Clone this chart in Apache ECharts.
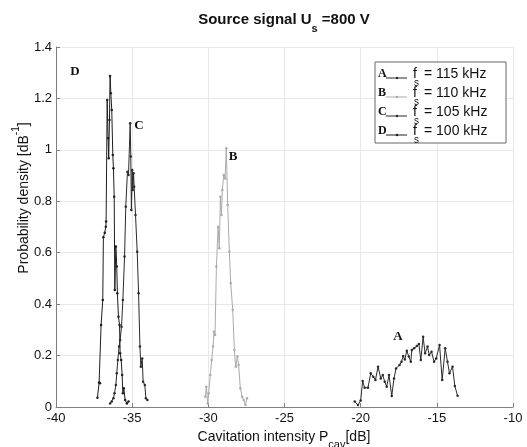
<!DOCTYPE html>
<html>
<head>
<meta charset="utf-8">
<script src="https://cdn.jsdelivr.net/npm/echarts@6/dist/echarts.min.js"></script>
<style>
  html, body { margin: 0; padding: 0; background: #fff; }
  #chart { width: 527px; height: 447px; }
</style>
</head>
<body>
<div id="chart"></div>
<script>
// values: [cavitation intensity dB, probability density]
const seriesA = [
  [-20.39, 0.021], [-20.18, 0.008], [-20.0, 0.025], [-19.87, 0.101], [-19.74, 0.075],
  [-19.52, 0.075], [-19.34, 0.131], [-19.17, 0.118], [-19.03, 0.105], [-18.86, 0.157],
  [-18.68, 0.111], [-18.55, 0.124], [-18.42, 0.098], [-18.29, 0.079], [-18.14, 0.124],
  [-17.96, 0.043], [-17.81, 0.111], [-17.68, 0.150], [-17.45, 0.163], [-17.32, 0.176],
  [-17.21, 0.198], [-17.1, 0.185], [-16.97, 0.219], [-16.84, 0.196], [-16.71, 0.176],
  [-16.64, 0.222], [-16.49, 0.228], [-16.32, 0.237], [-16.18, 0.245], [-16.05, 0.183],
  [-15.9, 0.273], [-15.77, 0.209], [-15.61, 0.235], [-15.5, 0.202], [-15.35, 0.215],
  [-15.18, 0.176], [-15.04, 0.189], [-14.82, 0.241], [-14.65, 0.105], [-14.45, 0.228],
  [-14.3, 0.176], [-14.17, 0.131], [-13.97, 0.157], [-13.82, 0.082], [-13.64, 0.044]
]
const seriesB = [
  [-30.2, 0.040], [-30.13, 0.079], [-30.04, 0.014], [-29.98, 0.053], [-29.87, 0.124],
  [-29.78, 0.183], [-29.69, 0.235], [-29.63, 0.293], [-29.56, 0.280], [-29.47, 0.546],
  [-29.36, 0.701], [-29.28, 0.617], [-29.21, 0.818], [-29.14, 0.747], [-29.08, 0.844],
  [-28.99, 0.902], [-28.9, 0.889], [-28.82, 1.006], [-28.73, 0.786], [-28.62, 0.604],
  [-28.53, 0.481], [-28.4, 0.377], [-28.29, 0.222], [-28.2, 0.157], [-28.09, 0.196],
  [-28.01, 0.163], [-27.9, 0.073], [-27.78, 0.040], [-27.68, 0.027], [-27.57, 0.008],
  [-27.46, 0.034]
]
const seriesC = [
  [-36.45, 0.014], [-36.34, 0.021], [-36.23, 0.034], [-36.16, 0.053], [-36.07, 0.086],
  [-36.01, 0.131], [-35.94, 0.183], [-35.86, 0.235], [-35.79, 0.261], [-35.7, 0.312],
  [-35.61, 0.416], [-35.5, 0.585], [-35.42, 0.779], [-35.31, 0.915], [-35.24, 0.902],
  [-35.13, 1.103], [-35.09, 0.974], [-35.05, 0.766], [-35.0, 0.922], [-34.96, 0.844],
  [-34.91, 0.909], [-34.87, 0.857], [-34.78, 0.747], [-34.67, 0.604], [-34.58, 0.442],
  [-34.49, 0.235], [-34.43, 0.157], [-34.34, 0.189], [-34.28, 0.098], [-34.17, 0.086],
  [-34.1, 0.034], [-34.0, 0.027]
]
const seriesD = [
  [-37.28, 0.036], [-37.17, 0.095], [-37.11, 0.092], [-37.04, 0.319], [-36.93, 0.416],
  [-36.89, 0.660], [-36.8, 0.678], [-36.73, 0.701], [-36.71, 0.721], [-36.64, 1.194],
  [-36.58, 1.045], [-36.54, 0.967], [-36.49, 1.116], [-36.45, 1.287], [-36.4, 1.220],
  [-36.34, 1.155], [-36.27, 0.980], [-36.23, 0.928], [-36.18, 0.818], [-36.14, 0.455],
  [-36.07, 0.624], [-36.01, 0.546], [-35.97, 0.442], [-35.9, 0.351], [-35.83, 0.319],
  [-35.79, 0.209], [-35.72, 0.183], [-35.66, 0.124], [-35.61, 0.053], [-35.55, 0.073],
  [-35.46, 0.027], [-35.35, 0.014], [-35.24, 0.021]
]
const curveLetters = ['A', 'B', 'C', 'D']
const curveFreqs = ['115', '110', '105', '100']
const curveColors = ['#2a2a2a', '#ababab', '#2a2a2a', '#1e1e1e']

const sans = 'Liberation Sans, Arial, sans-serif'
const serif = 'Liberation Serif, Times New Roman, serif'

function lineSeries(name, data, color) {
  return {
    name: name,
    type: 'line',
    data: data,
    symbol: 'circle',
    symbolSize: 2.5,
    showSymbol: true,
    itemStyle: { color: color },
    lineStyle: { color: color, width: 1 },
    animation: false
  }
}

const legendGraphics = []
legendGraphics.push({
  type: 'rect',
  shape: { x: 375, y: 62, width: 131, height: 81 },
  style: { fill: '#fff', stroke: '#666', lineWidth: 1 },
  z: 10
})
curveLetters.forEach(function(letter, i) {
  const y = 74 + i * 19
  legendGraphics.push({
    type: 'text', z: 11,
    style: { text: letter, x: 378, y: y, font: 'bold 12px ' + serif, fill: '#111', textVerticalAlign: 'middle' }
  })
  legendGraphics.push({
    type: 'line', z: 11,
    shape: { x1: 386, y1: y + 4, x2: 407, y2: y + 4 },
    style: { stroke: curveColors[i], lineWidth: 1 }
  })
  legendGraphics.push({
    type: 'circle', z: 11,
    shape: { cx: 397, cy: y + 4, r: 1.2 },
    style: { fill: curveColors[i] }
  })
  legendGraphics.push({
    type: 'text', z: 11,
    style: { text: 'f', x: 413, y: y, font: '14px ' + sans, fill: '#111', textVerticalAlign: 'middle' }
  })
  legendGraphics.push({
    type: 'text', z: 11,
    style: { text: 's', x: 414, y: y + 9, font: '10px ' + sans, fill: '#111', textVerticalAlign: 'middle' }
  })
  legendGraphics.push({
    type: 'text', z: 11,
    style: { text: '= ' + curveFreqs[i] + ' kHz', x: 424, y: y, font: '14px ' + sans, fill: '#111', textVerticalAlign: 'middle' }
  })
})

const peakLabels = [
  { text: 'A', x: 398, y: 337 },
  { text: 'B', x: 233, y: 157 },
  { text: 'C', x: 139, y: 126 },
  { text: 'D', x: 75, y: 72 }
].map(function(p) {
  return {
    type: 'text',
    style: { text: p.text, x: p.x, y: p.y, font: 'bold 13px ' + serif, fill: '#111', textAlign: 'center', textVerticalAlign: 'middle' }
  }
})

const chart = echarts.init(document.getElementById('chart'))
chart.setOption({
  backgroundColor: '#fff',
  animation: false,
  grid: { left: 56, right: 14, top: 47, bottom: 40 },
  xAxis: {
    type: 'value',
    min: -40,
    max: -10,
    interval: 5,
    axisLine: { show: true, onZero: false, lineStyle: { color: '#808080' } },
    axisTick: { show: true, inside: true, length: 4, lineStyle: { color: '#808080' } },
    axisLabel: { color: '#111', fontSize: 13, fontFamily: sans, margin: 5 },
    splitLine: { show: true, lineStyle: { color: '#e8e8e8', width: 1 } }
  },
  yAxis: {
    type: 'value',
    min: 0,
    max: 1.4,
    interval: 0.2,
    axisLine: { show: true, lineStyle: { color: '#808080' } },
    axisTick: { show: true, inside: true, length: 4, lineStyle: { color: '#808080' } },
    axisLabel: { color: '#111', fontSize: 13, fontFamily: sans, margin: 4 },
    splitLine: { show: true, lineStyle: { color: '#e8e8e8', width: 1 } }
  },
  series: [
    lineSeries('A', seriesA, curveColors[0]),
    lineSeries('B', seriesB, curveColors[1]),
    lineSeries('C', seriesC, curveColors[2]),
    lineSeries('D', seriesD, curveColors[3])
  ],
  graphic: [
    {
      type: 'text',
      style: {
        text: '{t|Source signal U}{s|s}{t| =800 V}',
        x: 284, y: 23,
        textAlign: 'center', textVerticalAlign: 'middle',
        rich: {
          t: { font: 'bold 15px ' + sans, fill: '#111', lineHeight: 22, verticalAlign: 'top' },
          s: { font: 'bold 11px ' + sans, fill: '#111', lineHeight: 22, verticalAlign: 'bottom' }
        }
      }
    },
    {
      type: 'text',
      style: {
        text: '{t|Cavitation intensity P}{s|cav}{t|[dB]}',
        x: 284, y: 440,
        textAlign: 'center', textVerticalAlign: 'middle',
        rich: {
          t: { font: '14px ' + sans, fill: '#111', lineHeight: 20, verticalAlign: 'top' },
          s: { font: '11px ' + sans, fill: '#111', lineHeight: 20, verticalAlign: 'bottom' }
        }
      }
    },
    {
      type: 'text',
      x: 21, y: 198,
      rotation: Math.PI / 2,
      style: {
        text: '{t|Probability density [dB}{p|-1}{t|]}',
        x: 0, y: 0,
        textAlign: 'center', textVerticalAlign: 'middle',
        rich: {
          t: { font: '14px ' + sans, fill: '#111', lineHeight: 20, verticalAlign: 'bottom' },
          p: { font: '10px ' + sans, fill: '#111', lineHeight: 20, verticalAlign: 'top' }
        }
      }
    }
  ].concat(peakLabels, legendGraphics)
})
</script>
</body>
</html>
